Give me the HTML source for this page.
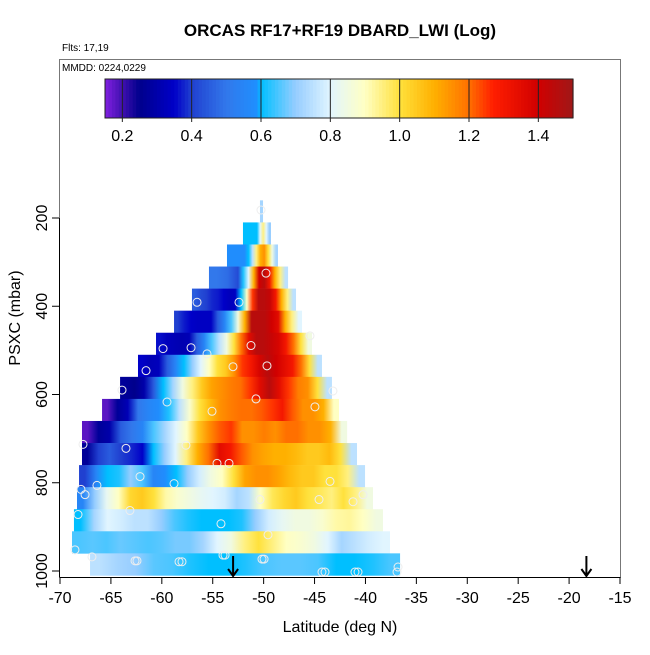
<!DOCTYPE html>
<html><head><meta charset="utf-8"><style>
body{margin:0;background:#fff}
svg{font-family:"Liberation Sans",sans-serif}
</style></head><body>
<svg id="chart" width="650" height="650" viewBox="0 0 650 650" xmlns="http://www.w3.org/2000/svg">
<defs id="defs"></defs>
<text x="340" y="36" text-anchor="middle" font-size="17" font-weight="bold">ORCAS RF17+RF19 DBARD_LWI (Log)</text>
<text x="62" y="51" font-size="10">Flts: 17,19</text>
<rect x="59.5" y="59.5" width="561" height="518" fill="none" stroke="#777" stroke-width="1"/>
<text x="62" y="71" font-size="10">MMDD: 0224,0229</text>
<g id="colorbar"></g>
<g id="heat"></g>
<g id="circles"></g>
<g id="axes"></g>
<text x="340" y="632" text-anchor="middle" font-size="16">Latitude (deg N)</text>
<text transform="translate(20,318) rotate(-90)" text-anchor="middle" font-size="16">PSXC (mbar)</text>
</svg>
<script>
const rowPressureTop = [160,210,260,310,360,410,460,510,560,610,660,710,760,810,860,910,960];
const rowLatMin = [-50.36,-52.03,-53.6,-55.37,-57.04,-58.8,-60.57,-62.34,-64.1,-65.87,-67.84,-67.84,-68.13,-68.33,-68.63,-68.82,-67.05];
const rowLatMax = [-50.06,-49.28,-48.59,-47.6,-46.82,-46.23,-45.25,-44.27,-43.29,-42.6,-41.8,-40.83,-40.04,-39.26,-38.28,-37.59,-36.6];
const rowValues = [
[0.72],
[0.6,0.6,0.6,0.6,0.6,0.8,0.95,0.8,0.7],
[0.58,0.58,0.58,0.58,0.58,0.6,0.75,0.95,1.1,1.15,1.0,0.85,0.72],
[0.5,0.5,0.49,0.48,0.45,0.42,0.62,0.8,1.1,1.4,1.45,1.3,1.1,0.95,0.75],
[0.45,0.42,0.4,0.38,0.37,0.35,0.33,0.34,0.6,0.9,1.25,1.45,1.45,1.42,1.3,1.1,0.95,0.75],
[0.4,0.37,0.35,0.34,0.34,0.34,0.45,0.55,0.65,0.85,1.1,1.45,1.45,1.45,1.4,1.35,1.1,0.95,0.8],
[0.36,0.33,0.32,0.31,0.32,0.45,0.55,0.65,0.75,0.85,1.0,1.2,1.35,1.45,1.45,1.42,1.38,1.3,1.2,1.0,0.85],
[0.35,0.32,0.33,0.45,0.55,0.6,0.7,0.8,0.9,1.0,1.05,1.15,1.25,1.3,1.38,1.45,1.4,1.35,1.3,1.2,1.0,0.75],
[0.27,0.25,0.3,0.45,0.6,0.72,0.85,0.95,1.05,1.12,1.15,1.18,1.2,1.25,1.35,1.45,1.35,1.25,1.18,1.15,1.0,0.75],
[0.18,0.27,0.32,0.5,0.55,0.58,0.62,0.75,0.88,1.0,1.08,1.15,1.18,1.2,1.2,1.22,1.25,1.3,1.22,1.15,1.15,1.1,0.9],
[0.18,0.27,0.3,0.45,0.5,0.55,0.65,0.72,0.8,0.9,1.05,1.15,1.22,1.25,1.15,1.15,1.18,1.15,1.2,1.2,1.15,1.15,1.1,0.85],
[0.27,0.4,0.45,0.4,0.38,0.35,0.6,0.7,0.8,0.95,1.1,1.2,1.35,1.3,1.22,1.15,1.12,1.1,1.1,1.08,1.05,1.05,1.08,1.0,0.75],
[0.4,0.55,0.6,0.62,0.7,0.65,0.55,0.58,0.6,0.7,0.78,0.85,0.9,1.0,1.12,1.15,1.15,1.12,1.08,1.05,1.05,1.0,1.0,0.95,0.75],
[0.55,0.7,0.82,0.9,1.02,1.05,1.0,0.92,0.88,0.85,0.82,0.8,0.78,0.72,0.75,0.9,0.98,1.02,1.05,1.0,0.98,0.95,1.0,0.95,0.85],
[0.6,0.72,0.8,0.78,0.75,0.75,0.7,0.65,0.62,0.6,0.6,0.6,0.62,0.7,0.78,0.82,0.85,0.85,0.88,0.92,0.93,0.9,0.85],
[0.65,0.66,0.65,0.67,0.66,0.65,0.66,0.68,0.68,0.72,0.8,0.85,0.95,1.0,0.95,0.9,0.88,0.85,0.8,0.72,0.75,0.78,0.8],
[0.75,0.72,0.7,0.66,0.65,0.62,0.6,0.6,0.62,0.65,0.66,0.66,0.65,0.6,0.6,0.62,0.65]
];
const circleLat = [-50.26,-49.77,-56.54,-52.42,-59.88,-57.13,-55.56,-51.24,-61.55,-53.01,-49.67,-45.45,-63.91,-50.75,-43.19,-59.49,-55.07,-44.96,-67.74,-63.52,-57.63,-54.58,-53.4,-62.14,-58.8,-43.48,-67.94,-66.37,-67.54,-50.36,-44.56,-41.22,-40.24,-63.13,-68.23,-54.19,-49.57,-68.53,-66.86,-62.63,-62.44,-58.31,-58.02,-53.99,-53.79,-50.16,-49.96,-44.27,-43.97,-41.03,-40.73,-36.9,-36.8];
const circleP = [182,325,391,391,496,494,508,489,546,537,535,467,590,610,592,617,638,628,713,722,715,756,756,786,802,797,815,806,827,838,838,843,827,863,872,893,918,952,968,977,977,979,979,964,964,973,973,1007,1007,1007,1007,1005,991];
const xTicks = [-70,-65,-60,-55,-50,-45,-40,-35,-30,-25,-20,-15];
const yTicks = [200,400,600,800,1000];
const cbTicks = [0.2,0.4,0.6,0.8,1.0,1.2,1.4];
const arrowLat = [-53.0,-18.3];

const NS="http://www.w3.org/2000/svg";
const xS = lat => 60 + (lat + 70) * (560/55);
const yS = p => 218 + (p - 200) * (353/800);
const cbX = v => 105 + (v - 0.15) * (468/1.35);
const stops = [[0.15,[128,32,224]],[0.2,[64,16,176]],[0.25,[0,0,140]],[0.35,[0,0,200]],[0.4,[32,64,208]],[0.5,[50,120,235]],[0.59,[30,144,255]],[0.6,[0,191,255]],[0.7,[150,205,255]],[0.8,[225,245,255]],[0.9,[255,255,195]],[1.0,[255,225,60]],[1.1,[255,176,0]],[1.2,[255,112,0]],[1.27,[255,30,0]],[1.4,[208,0,0]],[1.5,[160,24,24]]];
function col(v){
  if(v<=stops[0][0]) return `rgb(${stops[0][1]})`;
  for(let i=1;i<stops.length;i++){
    if(v<=stops[i][0]){
      const a=stops[i-1],b=stops[i],t=(v-a[0])/(b[0]-a[0]);
      const c=a[1].map((x,k)=>Math.round(x+(b[1][k]-x)*t));
      return `rgb(${c})`;
    }
  }
  return `rgb(${stops[stops.length-1][1]})`;
}
function mk(tag,attrs,parent){const e=document.createElementNS(NS,tag);for(const k in attrs)e.setAttribute(k,attrs[k]);parent.appendChild(e);return e;}

// colorbar
const cb=document.getElementById('colorbar');
for(let v=0.15; v<1.5; v+=0.01){
  const r=mk('rect',{x:cbX(v),y:79,width:468/135+0.6,height:39,fill:col(v+0.005)},cb);
  
  
}
const cbf=mk('rect',{x:105,y:79,width:468,height:39,fill:'none',stroke:'#222','stroke-width':1},cb);


cbTicks.forEach(t=>{
  const l=mk('line',{x1:cbX(t),x2:cbX(t),y1:79,y2:122,stroke:'#222','stroke-width':1},cb);
  
  
  const tx=mk('text',{x:cbX(t),y:141,'text-anchor':'middle','font-size':16},cb);
  tx.textContent=t.toFixed(1);
  
  
});

// heatmap: one rect per row filled with a gradient through the row's values
const hg=document.getElementById('heat');
const defs=document.getElementById('defs');
rowValues.forEach((vals,i)=>{
  const x0=xS(rowLatMin[i]), x1=xS(rowLatMax[i]);
  const y0=yS(rowPressureTop[i]), y1=Math.min(yS(rowPressureTop[i]+50),577);
  const g=mk('linearGradient',{id:'row'+i,x1:0,x2:1,y1:0,y2:0},defs);
  vals.forEach((v,j)=>{
    mk('stop',{offset:((j+0.5)/vals.length),'stop-color':col(v)},g);
  });
  const r=mk('rect',{x:x0,y:y0,width:x1-x0,height:y1-y0+0.3,fill:`url(#row${i})`},hg);
  
  
});

// circles
const cg=document.getElementById('circles');
circleLat.forEach((lat,i)=>{
  const c=mk('circle',{cx:xS(lat),cy:Math.min(yS(circleP[i]),572),r:4,fill:'none',stroke:'#eee','stroke-width':1},cg);
  
  
});

// axes
const ag=document.getElementById('axes');
const xl=mk('line',{x1:59.5,x2:620.5,y1:577.5,y2:577.5,stroke:'#000'},ag);


xTicks.forEach(t=>{
  const l=mk('line',{x1:xS(t),x2:xS(t),y1:577,y2:584,stroke:'#000'},ag);
  
  
  const tx=mk('text',{x:xS(t),y:603,'text-anchor':'middle','font-size':16},ag);
  tx.textContent=t;
  
  
});
const yl=mk('line',{x1:59.5,x2:59.5,y1:yS(200),y2:577,stroke:'#000'},ag);


yTicks.forEach(t=>{
  const l=mk('line',{x1:52,x2:59,y1:yS(t),y2:yS(t),stroke:'#000'},ag);
  
  
  const tx=mk('text',{transform:`translate(47,${yS(t)}) rotate(-90)`,'text-anchor':'middle','font-size':16},ag);
  tx.textContent=t;
  
  
});
arrowLat.forEach(a=>{
  const x=xS(a);
  const p=mk('path',{d:`M${x},556 L${x},576 M${x-5},569 L${x},576 L${x+5},569`,stroke:'#000','stroke-width':2,fill:'none'},ag);
  
  
});
</script>
</body></html>
